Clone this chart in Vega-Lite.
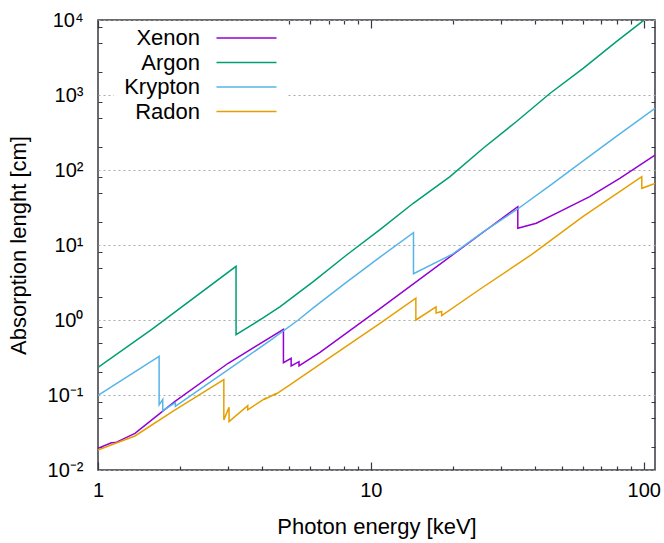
{
  "$schema": "https://vega.github.io/schema/vega-lite/v6.json",
  "width": 557,
  "height": 450,
  "autosize": {"type": "none"},
  "padding": {"left": 98, "top": 20, "right": 9, "bottom": 73},
  "background": "white",
  "config": {"font": "Liberation Sans", "view": {"stroke": "#383840", "strokeWidth": 1.5}},
  "data": {"values": [
    {"g": "Xenon", "i": 0, "e": 1.0, "v": 0.01945},
    {"g": "Xenon", "i": 1, "e": 1.12, "v": 0.0231},
    {"g": "Xenon", "i": 2, "e": 1.16, "v": 0.0232},
    {"g": "Xenon", "i": 3, "e": 1.366, "v": 0.0308},
    {"g": "Xenon", "i": 4, "e": 1.91, "v": 0.0815},
    {"g": "Xenon", "i": 5, "e": 3.0, "v": 0.265},
    {"g": "Xenon", "i": 6, "e": 4.782, "v": 0.75},
    {"g": "Xenon", "i": 7, "e": 4.782, "v": 0.27},
    {"g": "Xenon", "i": 8, "e": 5.104, "v": 0.308},
    {"g": "Xenon", "i": 9, "e": 5.104, "v": 0.244},
    {"g": "Xenon", "i": 10, "e": 5.453, "v": 0.278},
    {"g": "Xenon", "i": 11, "e": 5.453, "v": 0.244},
    {"g": "Xenon", "i": 12, "e": 6.51, "v": 0.371},
    {"g": "Xenon", "i": 13, "e": 10.8, "v": 1.42},
    {"g": "Xenon", "i": 14, "e": 25.8, "v": 14.8},
    {"g": "Xenon", "i": 15, "e": 34.56, "v": 32.4},
    {"g": "Xenon", "i": 16, "e": 34.56, "v": 16.7},
    {"g": "Xenon", "i": 17, "e": 40.4, "v": 19.5},
    {"g": "Xenon", "i": 18, "e": 49.2, "v": 27.8},
    {"g": "Xenon", "i": 19, "e": 63.4, "v": 44.1},
    {"g": "Xenon", "i": 20, "e": 81.7, "v": 77.4},
    {"g": "Xenon", "i": 21, "e": 110, "v": 158},
    {"g": "Argon", "i": 0, "e": 1.0, "v": 0.233},
    {"g": "Argon", "i": 1, "e": 1.57, "v": 0.743},
    {"g": "Argon", "i": 2, "e": 3.206, "v": 5.19},
    {"g": "Argon", "i": 3, "e": 3.206, "v": 0.64},
    {"g": "Argon", "i": 4, "e": 4.0, "v": 1.05},
    {"g": "Argon", "i": 5, "e": 4.64, "v": 1.5},
    {"g": "Argon", "i": 6, "e": 6.15, "v": 3.24},
    {"g": "Argon", "i": 7, "e": 8.15, "v": 7.36},
    {"g": "Argon", "i": 8, "e": 10.8, "v": 16.0},
    {"g": "Argon", "i": 9, "e": 14.3, "v": 36.0},
    {"g": "Argon", "i": 10, "e": 19.5, "v": 81.5},
    {"g": "Argon", "i": 11, "e": 25.8, "v": 195},
    {"g": "Argon", "i": 12, "e": 34.1, "v": 440},
    {"g": "Argon", "i": 13, "e": 45.3, "v": 1047},
    {"g": "Argon", "i": 14, "e": 60.0, "v": 2270},
    {"g": "Argon", "i": 15, "e": 79.4, "v": 5140},
    {"g": "Argon", "i": 16, "e": 100, "v": 9900},
    {"g": "Krypton", "i": 0, "e": 1.0, "v": 0.099},
    {"g": "Krypton", "i": 1, "e": 1.675, "v": 0.327},
    {"g": "Krypton", "i": 2, "e": 1.675, "v": 0.074},
    {"g": "Krypton", "i": 3, "e": 1.727, "v": 0.087},
    {"g": "Krypton", "i": 4, "e": 1.727, "v": 0.062},
    {"g": "Krypton", "i": 5, "e": 1.921, "v": 0.079},
    {"g": "Krypton", "i": 6, "e": 1.921, "v": 0.0705},
    {"g": "Krypton", "i": 7, "e": 2.36, "v": 0.119},
    {"g": "Krypton", "i": 8, "e": 4.27, "v": 0.53},
    {"g": "Krypton", "i": 9, "e": 5.42, "v": 1.0},
    {"g": "Krypton", "i": 10, "e": 6.15, "v": 1.45},
    {"g": "Krypton", "i": 11, "e": 8.15, "v": 3.2},
    {"g": "Krypton", "i": 12, "e": 10.8, "v": 6.9},
    {"g": "Krypton", "i": 13, "e": 14.33, "v": 14.6},
    {"g": "Krypton", "i": 14, "e": 14.33, "v": 4.14},
    {"g": "Krypton", "i": 15, "e": 20.0, "v": 7.6},
    {"g": "Krypton", "i": 16, "e": 25.8, "v": 15.0},
    {"g": "Krypton", "i": 17, "e": 34.1, "v": 29.3},
    {"g": "Krypton", "i": 18, "e": 45.3, "v": 61.8},
    {"g": "Krypton", "i": 19, "e": 60.0, "v": 132},
    {"g": "Krypton", "i": 20, "e": 79.4, "v": 281},
    {"g": "Krypton", "i": 21, "e": 110, "v": 665},
    {"g": "Radon", "i": 0, "e": 1.0, "v": 0.0185},
    {"g": "Radon", "i": 1, "e": 1.116, "v": 0.0215},
    {"g": "Radon", "i": 2, "e": 1.366, "v": 0.0284},
    {"g": "Radon", "i": 3, "e": 1.91, "v": 0.063},
    {"g": "Radon", "i": 4, "e": 2.892, "v": 0.16},
    {"g": "Radon", "i": 5, "e": 2.892, "v": 0.0466},
    {"g": "Radon", "i": 6, "e": 3.022, "v": 0.0685},
    {"g": "Radon", "i": 7, "e": 3.022, "v": 0.0442},
    {"g": "Radon", "i": 8, "e": 3.538, "v": 0.072},
    {"g": "Radon", "i": 9, "e": 3.538, "v": 0.0635},
    {"g": "Radon", "i": 10, "e": 4.098, "v": 0.0904},
    {"g": "Radon", "i": 11, "e": 4.098, "v": 0.0885},
    {"g": "Radon", "i": 12, "e": 4.482, "v": 0.104},
    {"g": "Radon", "i": 13, "e": 4.482, "v": 0.102},
    {"g": "Radon", "i": 14, "e": 5.05, "v": 0.136},
    {"g": "Radon", "i": 15, "e": 6.87, "v": 0.293},
    {"g": "Radon", "i": 16, "e": 10.8, "v": 0.904},
    {"g": "Radon", "i": 17, "e": 14.62, "v": 1.95},
    {"g": "Radon", "i": 18, "e": 14.62, "v": 1.0},
    {"g": "Radon", "i": 19, "e": 17.34, "v": 1.5},
    {"g": "Radon", "i": 20, "e": 17.34, "v": 1.24},
    {"g": "Radon", "i": 21, "e": 18.18, "v": 1.3},
    {"g": "Radon", "i": 22, "e": 18.18, "v": 1.145},
    {"g": "Radon", "i": 23, "e": 25.1, "v": 2.57},
    {"g": "Radon", "i": 24, "e": 38.8, "v": 7.43},
    {"g": "Radon", "i": 25, "e": 60.0, "v": 24.0},
    {"g": "Radon", "i": 26, "e": 98.4, "v": 81.5},
    {"g": "Radon", "i": 27, "e": 98.4, "v": 57.0},
    {"g": "Radon", "i": 28, "e": 110, "v": 66.4}
  ]},
  "layer": [
    {
      "mark": {"type": "point", "opacity": 0},
      "encoding": {
        "x": {"field": "e", "type": "quantitative",
          "scale": {"type": "log", "domain": [1, 110], "nice": false},
          "axis": {"orient": "top", "values": [2, 3, 4, 5, 6, 7, 8, 9, 20, 30, 40, 50, 60, 70, 80, 90], "labels": false, "ticks": false, "domain": false, "title": null,
            "grid": true, "gridColor": "#383840", "gridWidth": 1.2, "gridDash": [4, 442, 4, 2000]}},
        "y": {"field": "v", "type": "quantitative",
          "scale": {"type": "log", "domain": [0.01, 10000], "nice": false},
          "axis": {"orient": "right", "values": [0.02, 0.05, 0.08, 0.2, 0.5, 0.8, 2, 5, 8, 20, 50, 80, 200, 500, 800, 2000, 5000, 8000], "labels": false, "ticks": false, "domain": false, "title": null,
            "grid": true, "gridColor": "#383840", "gridWidth": 1.2, "gridDash": [4, 549, 4, 2000]}}
      }
    },
    {
      "mark": {"type": "line", "strokeWidth": 1.5, "clip": true},
      "encoding": {
        "x": {"field": "e", "type": "quantitative",
          "axis": {"orient": "bottom", "values": [1, 10, 100], "format": ".0f", "ticks": false, "domain": false,
            "grid": true, "gridColor": "#383840", "gridWidth": 1.2, "gridDash": [8, 434, 8, 2000],
            "title": "Photon energy [keV]", "titleFontSize": 22, "titleFontWeight": "normal", "titleColor": "black", "titlePadding": 16,
            "labelFontSize": 20, "labelColor": "black", "labelPadding": 10, "labelFlush": false}},
        "y": {"field": "v", "type": "quantitative",
          "axis": {"orient": "left", "values": [0.01, 0.1, 1, 10, 100, 1000, 10000],
            "labelExpr": "datum.value > 5000 ? '10⁴' : datum.value > 500 ? '10³' : datum.value > 50 ? '10²' : datum.value > 5 ? '10¹' : datum.value > 0.5 ? '10⁰' : datum.value > 0.05 ? '10⁻¹' : '10⁻²'",
            "grid": true, "gridColor": "#aaaaaa", "gridDash": [2, 3], "gridWidth": 1, "ticks": false, "domain": false,
            "title": "Absorption lenght [cm]", "titleFontSize": 22, "titleFontWeight": "normal", "titleColor": "black", "titlePadding": 17,
            "labelFontSize": 20, "labelColor": "black", "labelPadding": 15, "labelFlush": false}},
        "color": {"field": "g", "type": "nominal",
          "scale": {"domain": ["Xenon", "Argon", "Krypton", "Radon"], "range": ["#9400d3", "#009e73", "#56b4e9", "#e69f00"]},
          "legend": {"orient": "none", "legendX": 16, "legendY": 1, "title": null,
            "symbolType": "M-3,0H3", "symbolSize": 400, "symbolStrokeWidth": 1.5, "symbolOffset": 115.5,
            "labelFontSize": 22, "labelColor": "black", "labelAlign": "right", "labelOffset": -57.5,
            "fillColor": "white", "padding": 6, "rowPadding": 2.5}},
        "order": {"field": "i", "type": "quantitative"}
      }
    }
  ],
  "resolve": {"axis": {"x": "independent", "y": "independent"}}
}
